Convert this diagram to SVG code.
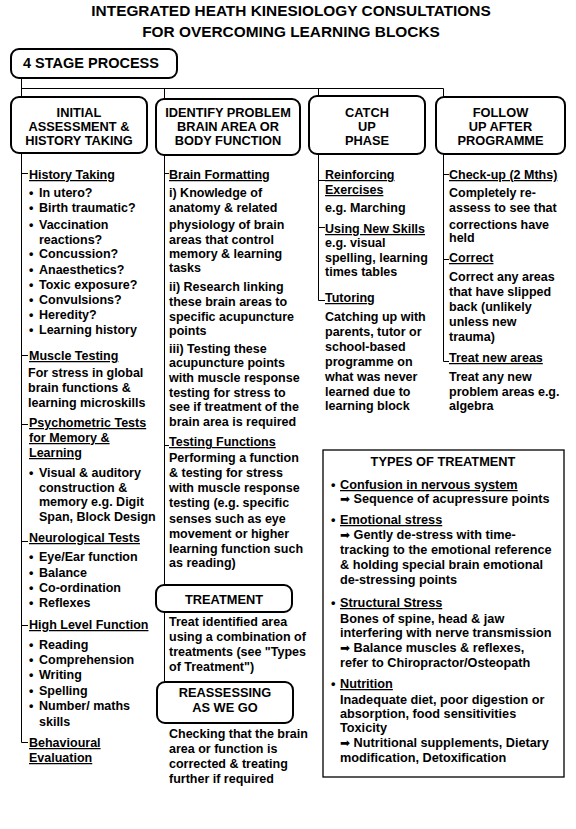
<svg xmlns="http://www.w3.org/2000/svg" width="576" height="829" viewBox="0 0 576 829">
<style>
  text { font-family: "Liberation Sans", Arial, sans-serif; font-weight: bold; fill: #000; }
  .title { font-size: 15.4px; text-anchor: middle; }
  .hdr { font-size: 12.8px; text-anchor: middle; }
  .b { font-size: 12.5px; }
  .t { font-size: 12.7px; }
  .u { text-decoration: underline; }
  .box { fill: #fff; stroke: #000; stroke-width: 2; }
  .tbox { fill: #fff; stroke: #000; stroke-width: 1.3; }
  .ln { stroke: #000; stroke-width: 1; fill: none; }
  .arw { font-family: "DejaVu Sans", sans-serif; font-weight: normal; font-size: 12px; }
</style>
<rect width="576" height="829" fill="#fff"/>

<g id="title">
  <text class="title" x="291" y="16">INTEGRATED HEATH KINESIOLOGY CONSULTATIONS</text>
  <text class="title" x="291" y="37">FOR OVERCOMING LEARNING BLOCKS</text>
</g>

<g id="connectors">
  <path class="ln" d="M21.5 78 V97 M21.5 88.5 H443.5 M164.5 88.5 V99 M318.5 88.5 V96 M443.5 88.5 V97"/>
  <path class="ln" d="M21.5 153 V742.5 M21.5 173.5 H28 M21.5 355.5 H28 M21.5 424.5 H28 M21.5 541.5 H28 M21.5 625.5 H28 M21.5 742.5 H28"/>
  <path class="ln" d="M164.5 155 V585 M164.5 612 V682 M164.5 173.5 H169 M164.5 445.5 H169"/>
  <path class="ln" d="M318.5 154 V300.5 M318.5 180.5 H325 M318.5 227.5 H325 M318.5 300.5 H325"/>
  <path class="ln" d="M443.5 154 V361.5 M443.5 174.5 H449 M443.5 259.5 H449 M443.5 361.5 H449"/>
</g>

<g id="stage">
  <rect class="box" x="11" y="49" width="166" height="29" rx="8"/>
  <text x="23" y="68" style="font-size:14.5px">4 STAGE PROCESS</text>
</g>

<g id="initial">
  <rect class="box" x="11" y="97" width="136" height="56" rx="8"/>
  <text class="hdr" x="79" y="116.5">INITIAL</text>
  <text class="hdr" x="79" y="130.5">ASSESSMENT &amp;</text>
  <text class="hdr" x="79" y="144.5">HISTORY TAKING</text>
</g>

<g id="identify">
  <rect class="box" x="156" y="99" width="144" height="56" rx="8"/>
  <text class="hdr" x="228" y="116.5">IDENTIFY PROBLEM</text>
  <text class="hdr" x="228" y="130.5">BRAIN AREA OR</text>
  <text class="hdr" x="228" y="144.5">BODY FUNCTION</text>
</g>

<g id="catchup">
  <rect class="box" x="309" y="96" width="116" height="58" rx="8"/>
  <text class="hdr" x="367" y="116.5">CATCH</text>
  <text class="hdr" x="367" y="130.5">UP</text>
  <text class="hdr" x="367" y="144.5">PHASE</text>
</g>

<g id="followup">
  <rect class="box" x="436" y="97" width="129" height="57" rx="8"/>
  <text class="hdr" x="500.5" y="116.5">FOLLOW</text>
  <text class="hdr" x="500.5" y="130.5">UP AFTER</text>
  <text class="hdr" x="500.5" y="144.5">PROGRAMME</text>
</g>

<g id="col1" class="b">
  <text class="b u" x="29" y="179">History Taking</text>
  <text class="b" x="29" y="197">•</text><text class="b" x="39" y="197">In utero?</text>
  <text class="b" x="29" y="212">•</text><text class="b" x="39" y="212">Birth traumatic?</text>
  <text class="b" x="29" y="229">•</text><text class="b" x="39" y="229">Vaccination</text>
  <text class="b" x="39" y="244">reactions?</text>
  <text class="b" x="29" y="258">•</text><text class="b" x="39" y="258">Concussion?</text>
  <text class="b" x="29" y="274">•</text><text class="b" x="39" y="274">Anaesthetics?</text>
  <text class="b" x="29" y="289">•</text><text class="b" x="39" y="289">Toxic exposure?</text>
  <text class="b" x="29" y="304">•</text><text class="b" x="39" y="304">Convulsions?</text>
  <text class="b" x="29" y="319">•</text><text class="b" x="39" y="319">Heredity?</text>
  <text class="b" x="29" y="334">•</text><text class="b" x="39" y="334">Learning history</text>
  <text class="b u" x="29" y="360">Muscle Testing</text>
  <text class="b" x="28" y="377">For stress in global</text>
  <text class="b" x="28" y="392">brain functions &amp;</text>
  <text class="b" x="28" y="407">learning microskills</text>
  <text class="b u" x="29" y="427">Psychometric Tests</text>
  <text class="b u" x="29" y="442">for Memory &amp;</text>
  <text class="b u" x="29" y="457">Learning</text>
  <text class="b" x="29" y="477">•</text><text class="b" x="39" y="477">Visual &amp; auditory</text>
  <text class="b" x="39" y="492">construction &amp;</text>
  <text class="b" x="39" y="506">memory e.g. Digit</text>
  <text class="b" x="39" y="521">Span, Block Design</text>
  <text class="b u" x="29" y="542">Neurological Tests</text>
  <text class="b" x="29" y="561">•</text><text class="b" x="39" y="561">Eye/Ear function</text>
  <text class="b" x="29" y="577">•</text><text class="b" x="39" y="577">Balance</text>
  <text class="b" x="29" y="592">•</text><text class="b" x="39" y="592">Co-ordination</text>
  <text class="b" x="29" y="607">•</text><text class="b" x="39" y="607">Reflexes</text>
  <text class="b u" x="29" y="629">High Level Function</text>
  <text class="b" x="29" y="649">•</text><text class="b" x="39" y="649">Reading</text>
  <text class="b" x="29" y="664">•</text><text class="b" x="39" y="664">Comprehension</text>
  <text class="b" x="29" y="679">•</text><text class="b" x="39" y="679">Writing</text>
  <text class="b" x="29" y="695">•</text><text class="b" x="39" y="695">Spelling</text>
  <text class="b" x="29" y="710">•</text><text class="b" x="39" y="710">Number/ maths</text>
  <text class="b" x="39" y="726">skills</text>
  <text class="b u" x="29" y="747">Behavioural</text>
  <text class="b u" x="29" y="762">Evaluation</text>
</g>

<g id="col2">
  <text class="b u" x="169" y="179">Brain Formatting</text>
  <text class="b" x="169" y="197">i) Knowledge of</text>
  <text class="b" x="169" y="212">anatomy &amp; related</text>
  <text class="b" x="169" y="229">physiology of brain</text>
  <text class="b" x="169" y="244">areas that control</text>
  <text class="b" x="169" y="258">memory &amp; learning</text>
  <text class="b" x="169" y="272">tasks</text>
  <text class="b" x="169" y="291">ii) Research linking</text>
  <text class="b" x="169" y="306">these brain areas to</text>
  <text class="b" x="169" y="321">specific acupuncture</text>
  <text class="b" x="169" y="335">points</text>
  <text class="b" x="169" y="353">iii) Testing these</text>
  <text class="b" x="169" y="367">acupuncture points</text>
  <text class="b" x="169" y="382">with muscle response</text>
  <text class="b" x="169" y="397">testing for stress to</text>
  <text class="b" x="169" y="411">see if treatment of the</text>
  <text class="b" x="169" y="426">brain area is required</text>
  <text class="b u" x="169" y="446">Testing Functions</text>
  <text class="b" x="169" y="462">Performing a function</text>
  <text class="b" x="169" y="477">&amp; testing for stress</text>
  <text class="b" x="169" y="492">with muscle response</text>
  <text class="b" x="169" y="507">testing (e.g. specific</text>
  <text class="b" x="169" y="523">senses such as eye</text>
  <text class="b" x="169" y="538">movement or higher</text>
  <text class="b" x="169" y="553">learning function such</text>
  <text class="b" x="169" y="567">as reading)</text>
</g>

<g id="treatment">
  <rect class="box" x="156" y="585" width="136" height="27" rx="8"/>
  <text class="hdr" x="224" y="604">TREATMENT</text>
  <text class="b" x="169" y="626">Treat identified area</text>
  <text class="b" x="169" y="641">using a combination of</text>
  <text class="b" x="169" y="656">treatments (see "Types</text>
  <text class="b" x="169" y="671">of Treatment")</text>
</g>

<g id="reassessing">
  <rect class="box" x="157" y="682" width="136" height="41" rx="8"/>
  <text class="hdr" x="225" y="697">REASSESSING</text>
  <text class="hdr" x="225" y="712">AS WE GO</text>
  <text class="b" x="169" y="738">Checking that the brain</text>
  <text class="b" x="169" y="753">area or function is</text>
  <text class="b" x="169" y="768">corrected &amp; treating</text>
  <text class="b" x="169" y="783">further if required</text>
</g>

<g id="col3">
  <text class="b u" x="325" y="179">Reinforcing</text>
  <text class="b u" x="325" y="194">Exercises</text>
  <text class="b" x="325" y="212">e.g. Marching</text>
  <text class="b u" x="325" y="233">Using New Skills</text>
  <text class="b" x="325" y="247">e.g. visual</text>
  <text class="b" x="325" y="262">spelling, learning</text>
  <text class="b" x="325" y="276">times tables</text>
  <text class="b u" x="325" y="302">Tutoring</text>
  <text class="b" x="325" y="321">Catching up with</text>
  <text class="b" x="325" y="336">parents, tutor or</text>
  <text class="b" x="325" y="351">school-based</text>
  <text class="b" x="325" y="366">programme on</text>
  <text class="b" x="325" y="381">what was never</text>
  <text class="b" x="325" y="396">learned due to</text>
  <text class="b" x="325" y="410">learning block</text>
</g>

<g id="col4">
  <text class="b u" x="449" y="179">Check-up (2 Mths)</text>
  <text class="b" x="449" y="197">Completely re-</text>
  <text class="b" x="449" y="212">assess to see that</text>
  <text class="b" x="449" y="229">corrections have</text>
  <text class="b" x="449" y="242">held</text>
  <text class="b u" x="449" y="262">Correct</text>
  <text class="b" x="449" y="281">Correct any areas</text>
  <text class="b" x="449" y="296">that have slipped</text>
  <text class="b" x="449" y="311">back (unlikely</text>
  <text class="b" x="449" y="326">unless new</text>
  <text class="b" x="449" y="341">trauma)</text>
  <text class="b u" x="449" y="362">Treat new areas</text>
  <text class="b" x="449" y="381">Treat any new</text>
  <text class="b" x="449" y="396">problem areas e.g.</text>
  <text class="b" x="449" y="410">algebra</text>
</g>

<g id="types">
  <rect class="tbox" x="323" y="450" width="241" height="327"/>
  <text class="hdr" x="443" y="466">TYPES OF TREATMENT</text>
  <text class="t" x="331" y="489">•</text><text class="t u" x="340" y="489">Confusion in nervous system</text>
  <text class="t" x="340" y="503"><tspan class="arw">➡</tspan> Sequence of acupressure points</text>
  <text class="t" x="331" y="524">•</text><text class="t u" x="340" y="524">Emotional stress</text>
  <text class="t" x="340" y="539"><tspan class="arw">➡</tspan> Gently de-stress with time-</text>
  <text class="t" x="340" y="554">tracking to the emotional reference</text>
  <text class="t" x="340" y="569">&amp; holding special brain emotional</text>
  <text class="t" x="340" y="584">de-stressing points</text>
  <text class="t" x="331" y="607">•</text><text class="t u" x="340" y="607">Structural Stress</text>
  <text class="t" x="340" y="623">Bones of spine, head &amp; jaw</text>
  <text class="t" x="340" y="637">interfering with nerve transmission</text>
  <text class="t" x="340" y="652"><tspan class="arw">➡</tspan> Balance muscles &amp; reflexes,</text>
  <text class="t" x="340" y="667">refer to Chiropractor/Osteopath</text>
  <text class="t" x="331" y="688">•</text><text class="t u" x="340" y="688">Nutrition</text>
  <text class="t" x="340" y="704">Inadequate diet, poor digestion or</text>
  <text class="t" x="340" y="718">absorption, food sensitivities</text>
  <text class="t" x="340" y="732">Toxicity</text>
  <text class="t" x="340" y="747"><tspan class="arw">➡</tspan> Nutritional supplements, Dietary</text>
  <text class="t" x="340" y="762">modification, Detoxification</text>
</g>
</svg>
